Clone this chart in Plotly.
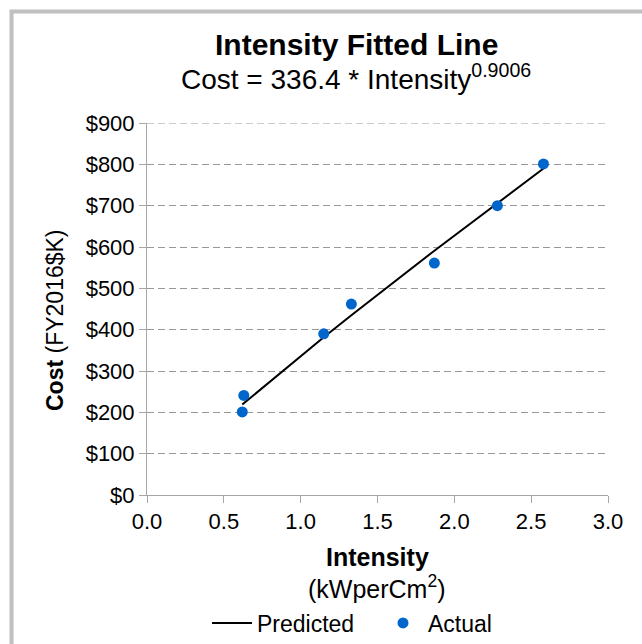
import plotly.graph_objects as go

# Data
intensity_actual = [0.62, 0.63, 1.15, 1.33, 1.87, 2.28, 2.58]
cost_actual = [201, 241, 390, 462, 561, 700, 801]

intensity_pred = [0.62, 0.63, 1.15, 1.33, 1.87, 2.28, 2.58]
cost_pred = [218.7, 221.9, 381.5, 434.9, 591.1, 706.7, 790.0]

x_ticks = [0.0, 0.5, 1.0, 1.5, 2.0, 2.5, 3.0]
x_tick_labels = ["0.0", "0.5", "1.0", "1.5", "2.0", "2.5", "3.0"]
y_ticks = [0, 100, 200, 300, 400, 500, 600, 700, 800, 900]
y_tick_labels = ["$0", "$100", "$200", "$300", "$400", "$500", "$600", "$700", "$800", "$900"]

FONT = "Arial, 'Liberation Sans', sans-serif"
GRID_COLOR = "#999999"
GRID_DASH = "7px,4px"

W, H = 642, 644
L, R, T, B = 147, 34, 123, 149
pw, ph = W - L - R, H - T - B


def px(xp):
    return (xp - L) / pw


def py(yp):
    return (H - B - yp) / ph


fig = go.Figure()
fig.add_trace(go.Scatter(
    x=intensity_pred, y=cost_pred, mode="lines", name="Predicted",
    line=dict(color="black", width=2),
))
fig.add_trace(go.Scatter(
    x=intensity_actual, y=cost_actual, mode="markers", name="Actual",
    marker=dict(color="#0066CC", size=11),
))

fig.update_layout(
    width=W, height=H,
    margin=dict(l=L, r=R, t=T, b=B, autoexpand=False),
    paper_bgcolor="white", plot_bgcolor="white",
    font=dict(family=FONT, color="black", size=22),
    showlegend=True,
    legend=dict(
        orientation="h", x=px(207), y=py(623), xanchor="left", yanchor="middle",
        font=dict(size=23), itemwidth=40, entrywidth=116, tracegroupgap=0,
        bgcolor="rgba(0,0,0,0)",
    ),
    xaxis=dict(
        range=[x_ticks[0], x_ticks[-1]], tickvals=x_ticks, ticktext=x_tick_labels,
        showline=True, linecolor="#a6a6a6", linewidth=1,
        ticks="outside", ticklen=7, tickcolor="#a6a6a6",
        showgrid=False, zeroline=False, tickfont=dict(size=22),
    ),
    yaxis=dict(
        range=[y_ticks[0], y_ticks[-1]], tickvals=y_ticks, ticktext=y_tick_labels,
        showline=True, linecolor="#a6a6a6", linewidth=1,
        ticks="outside", ticklen=7, tickcolor="#a6a6a6",
        showgrid=True, gridcolor=GRID_COLOR, gridwidth=1, griddash=GRID_DASH,
        zeroline=False, tickfont=dict(size=22),
    ),
    shapes=[
        dict(type="rect", xref="paper", yref="paper",
             x0=px(11.5), x1=px(680), y0=py(700), y1=py(11.5),
             line=dict(color="#c0c0c0", width=4), layer="below"),
        # top gridline (at the edge of the axis range)
        dict(type="line", xref="paper", yref="y",
             x0=0, x1=1, y0=y_ticks[-1], y1=y_ticks[-1],
             line=dict(color=GRID_COLOR, width=1, dash=GRID_DASH), layer="below"),
    ],
    annotations=[
        dict(text="<b>Intensity Fitted Line</b>", x=px(356), y=py(45),
             xref="paper", yref="paper", showarrow=False,
             xanchor="center", yanchor="middle", font=dict(size=30)),
        dict(text="Cost = 336.4 * Intensity<sup>0.9006</sup>", x=px(356), y=py(77),
             xref="paper", yref="paper", showarrow=False,
             xanchor="center", yanchor="middle", font=dict(size=28)),
        dict(text="<b>Cost</b> (FY2016$K)", x=px(55), y=py(320),
             xref="paper", yref="paper", showarrow=False, textangle=-90,
             xanchor="center", yanchor="middle", font=dict(size=23)),
        dict(text="<b>Intensity</b>", x=px(377), y=py(557),
             xref="paper", yref="paper", showarrow=False,
             xanchor="center", yanchor="middle", font=dict(size=25)),
        dict(text="(kWperCm<sup>2</sup>)", x=px(377), y=py(587),
             xref="paper", yref="paper", showarrow=False,
             xanchor="center", yanchor="middle", font=dict(size=25)),
    ],
)

fig.write_html("out.html")
